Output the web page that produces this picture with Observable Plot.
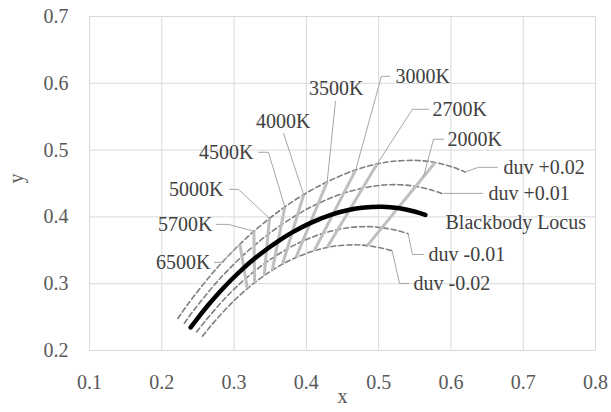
<!DOCTYPE html>
<html><head><meta charset="utf-8">
<script src="https://cdn.jsdelivr.net/npm/d3@7"></script>
<script src="https://cdn.jsdelivr.net/npm/@observablehq/plot@0.6"></script>
<style>html,body{margin:0;padding:0;background:#fff;} svg{display:block}</style>
</head><body><div id="chart"></div>
<script>
// Axis ticks
const xTicks = [0.1, 0.2, 0.3, 0.4, 0.5, 0.6, 0.7, 0.8];
const yTicks = [0.2, 0.3, 0.4, 0.5, 0.6, 0.7];

// Blackbody (Planckian) locus, x,y  (T = inf ... 1667 K)
const locus = [[0.2400,0.2345],[0.2525,0.2522],[0.2637,0.2673],[0.2807,0.2883],[0.2952,0.3048],[0.3135,0.3237],[0.3280,0.3372],[0.3451,0.3516],[0.3607,0.3635],[0.3805,0.3768],[0.4053,0.3907],[0.4369,0.4041],[0.4599,0.4106],[0.4770,0.4137],[0.5056,0.4152],[0.5267,0.4133],[0.5496,0.4081],[0.5646,0.4029]];

// duv iso-lines
const duvPlus02 = [[0.2222,0.2479],[0.2353,0.2681],[0.2676,0.3127],[0.2858,0.3346],[0.3080,0.3591],[0.3274,0.3784],[0.3490,0.3977],[0.3702,0.4149],[0.3963,0.4334],[0.4288,0.4525],[0.4683,0.4704],[0.4978,0.4792],[0.5200,0.4832],[0.5532,0.4845],[0.5781,0.4814],[0.6034,0.4742],[0.6195,0.4672]];
const duvPlus01 = [[0.2312,0.2409],[0.2441,0.2600],[0.2743,0.3002],[0.2906,0.3192],[0.3108,0.3408],[0.3469,0.3737],[0.3880,0.4038],[0.4164,0.4201],[0.4518,0.4356],[0.4974,0.4467],[0.5283,0.4482],[0.5512,0.4457],[0.5752,0.4396],[0.5908,0.4335]];
const duvMinus01 = [[0.2482,0.2277],[0.2606,0.2448],[0.2867,0.2771],[0.2994,0.2911],[0.3160,0.3077],[0.3433,0.3311],[0.3735,0.3520],[0.3950,0.3637],[0.4233,0.3755],[0.4586,0.3839],[0.4852,0.3855],[0.5046,0.3839],[0.5263,0.3794],[0.5407,0.3749]];
const duvMinus02 = [[0.2563,0.2215],[0.2685,0.2377],[0.2924,0.2664],[0.3035,0.2782],[0.3184,0.2927],[0.3285,0.3016],[0.3417,0.3121],[0.3529,0.3202],[0.3671,0.3293],[0.3856,0.3391],[0.4109,0.3494],[0.4287,0.3542],[0.4418,0.3566],[0.4664,0.3582],[0.4843,0.3570],[0.5049,0.3531],[0.5187,0.3492]];

// CCT isotherms (duv -0.02 -> +0.02)
const cctNames = ["6500K","5700K","5000K","4500K","4000K","3500K","3000K","2700K","2000K"];
const isoLowX  = [0.3184,0.3285,0.3417,0.3529,0.3671,0.3856,0.4109,0.4287,0.4843];
const isoLowY  = [0.2927,0.3016,0.3121,0.3202,0.3293,0.3391,0.3494,0.3542,0.3570];
const isoHighX = [0.3080,0.3274,0.3490,0.3702,0.3963,0.4288,0.4683,0.4978,0.5781];
const isoHighY = [0.3591,0.3784,0.3977,0.4149,0.4334,0.4525,0.4704,0.4792,0.4814];

// Annotation labels (data coordinates); left group is right-aligned, right group left-aligned
const leftText = ["6500K","5700K","5000K","4500K","4000K","3500K"];
const leftX = [0.2674,0.2702,0.2854,0.3269,0.4057,0.4790];
const leftY = [0.3319,0.3888,0.4412,0.4967,0.5431,0.5926];
const rightText = ["3000K","2700K","2000K","duv +0.02","duv +0.01","Blackbody Locus","duv -0.01","duv -0.02"];
const rightX = [0.5233,0.5745,0.5952,0.6727,0.6520,0.5925,0.5690,0.5482];
const rightY = [0.6105,0.5611,0.5162,0.4742,0.4352,0.3918,0.3438,0.3004];

// Leader lines (data coordinates)
const leaders = [
  [[0.2729,0.3319],[0.2826,0.3319],[0.3080,0.3591]],
  [[0.2757,0.3888],[0.2923,0.3888],[0.3274,0.3784]],
  [[0.2937,0.4412],[0.3061,0.4412],[0.3490,0.3977]],
  [[0.3338,0.4967],[0.3476,0.4967],[0.3702,0.4149]],
  [[0.3684,0.5251],[0.3963,0.4334]],
  [[0.4403,0.5731],[0.4288,0.4525]],
  [[0.5150,0.6105],[0.5039,0.6105],[0.4683,0.4704]],
  [[0.5690,0.5611],[0.5468,0.5611],[0.4978,0.4792]],
  [[0.5897,0.5162],[0.5759,0.5162],[0.5620,0.4600]],
  [[0.6644,0.4742],[0.6381,0.4742],[0.6195,0.4672]],
  [[0.6437,0.4352],[0.5908,0.4352]],
  [[0.5407,0.3749],[0.5468,0.3438],[0.5621,0.3438]],
  [[0.5187,0.3492],[0.5289,0.3004],[0.5413,0.3004]]
];

const serif = '"Liberation Serif","Times New Roman",serif';
const leaderRows = leaders.flatMap((pts, i) => pts.map(p => ({i, x: p[0], y: p[1]})));
const idx = d3.range(cctNames.length);
const li = d3.range(leftText.length);
const ri = d3.range(rightText.length);

const dashed = {x: d => d[0], y: d => d[1], stroke: "#7f7f7f", strokeWidth: 1.6, strokeDasharray: "5,3", curve: "catmull-rom"};

const chart = Plot.plot({
  width: 611, height: 412,
  marginLeft: 89, marginRight: 16, marginTop: 16, marginBottom: 62,
  style: {fontFamily: serif, fontSize: "20px", background: "#fff", color: "#595959"},
  x: {domain: [0.1, 0.8], label: null},
  y: {domain: [0.2, 0.7], label: null},
  marks: [
    Plot.gridX(xTicks, {stroke: "#d9d9d9", strokeOpacity: 1, strokeWidth: 1}),
    Plot.gridY(yTicks, {stroke: "#d9d9d9", strokeOpacity: 1, strokeWidth: 1}),
    Plot.axisX(xTicks, {tickSize: 0, tickPadding: 24, tickFormat: d => d.toFixed(1), fontSize: 20, fill: "#595959", label: null}),
    Plot.axisY(yTicks, {tickSize: 0, tickPadding: 21, tickFormat: d => d.toFixed(1), fontSize: 20, fill: "#595959", label: null}),
    Plot.text(["x"], {frameAnchor: "bottom", dy: 52, fontSize: 20, fill: "#595959"}),
    Plot.text(["y"], {frameAnchor: "left", dx: -73, rotate: -90, fontSize: 20, fill: "#595959"}),
    Plot.line(duvPlus02, dashed),
    Plot.line(duvPlus01, dashed),
    Plot.line(duvMinus01, dashed),
    Plot.line(duvMinus02, dashed),
    Plot.link(idx, {x1: i => isoLowX[i], y1: i => isoLowY[i], x2: i => isoHighX[i], y2: i => isoHighY[i], stroke: "#bfbfbf", strokeWidth: 3}),
    Plot.line(locus, {x: d => d[0], y: d => d[1], stroke: "#000", strokeWidth: 4.5, strokeLinecap: "round", curve: "catmull-rom"}),
    Plot.line(leaderRows, {x: "x", y: "y", z: "i", stroke: "#a6a6a6", strokeWidth: 1}),
    Plot.text(li, {x: i => leftX[i], y: i => leftY[i], text: i => leftText[i], textAnchor: "end", fontSize: 20, fill: "#404040"}),
    Plot.text(ri, {x: i => rightX[i], y: i => rightY[i], text: i => rightText[i], textAnchor: "start", fontSize: 20, fill: "#404040"})
  ]
});
document.getElementById("chart").append(chart);
</script></body></html>
